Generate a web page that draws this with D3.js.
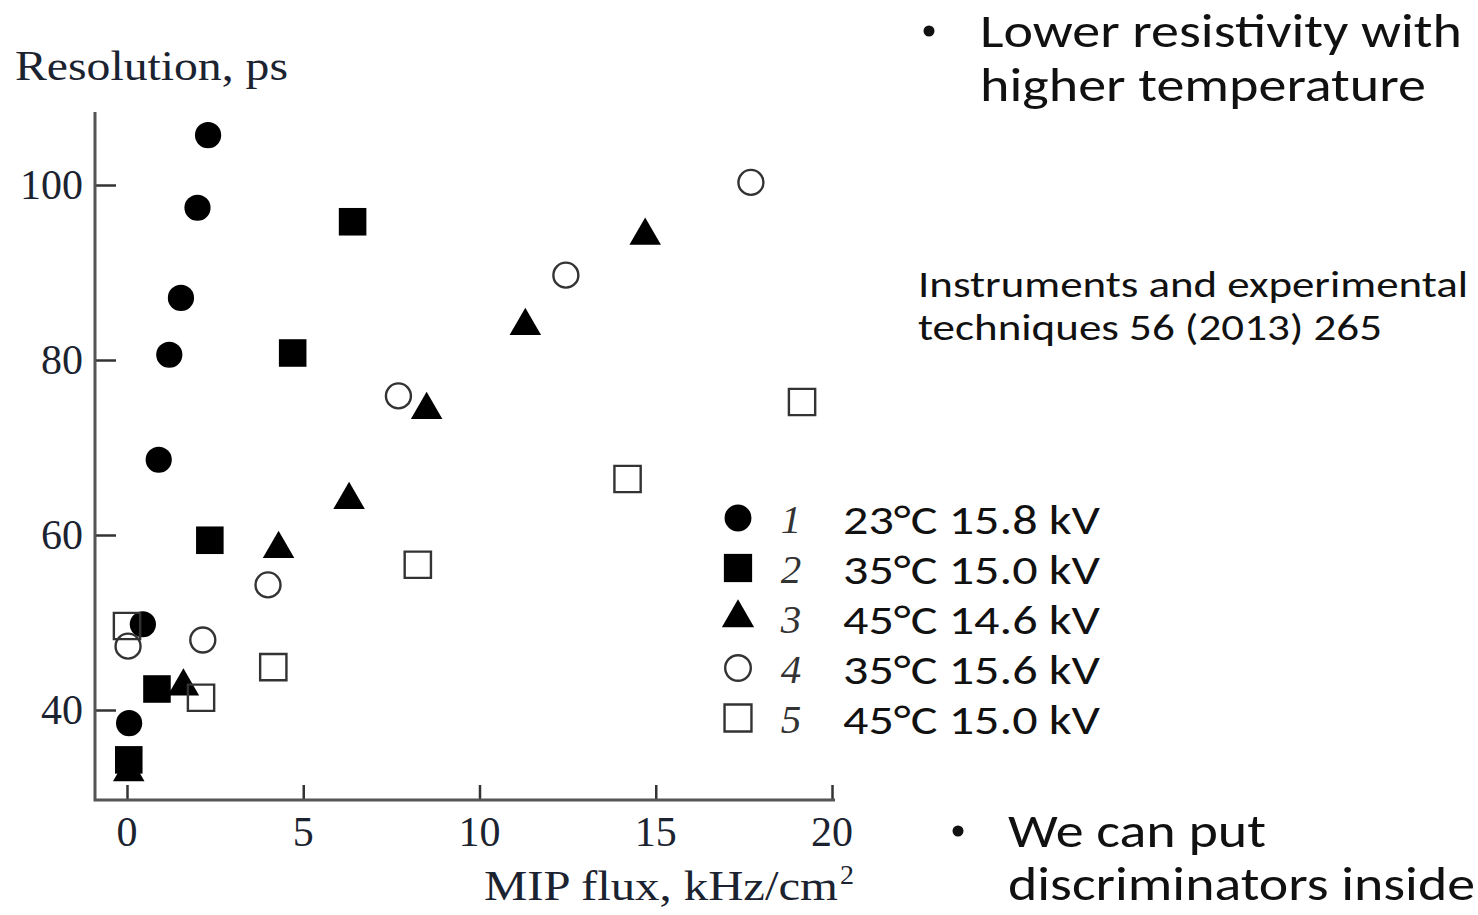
<!DOCTYPE html>
<html><head><meta charset="utf-8">
<script src="https://cdn.jsdelivr.net/npm/d3@7"></script>
<style>html,body{margin:0;padding:0;background:#fff;}</style>
</head><body>
<svg id="c" width="1478" height="915"></svg>
<script>
const xTicks = [0, 5, 10, 15, 20];
const yTicks = [40, 60, 80, 100];
const s1x = [0.06, 0.45, 0.9, 1.2, 1.53, 2.0, 2.3];
const s1y = [38.5, 49.8, 68.6, 80.6, 87.1, 97.4, 105.7];
const s2x = [0.05, 0.85, 2.35, 4.7, 6.4];
const s2y = [34.3, 42.4, 59.4, 80.8, 95.8];
const s3x = [0.05, 1.6, 4.3, 6.3, 8.5, 11.3, 14.7];
const s3y = [32.9, 42.7, 58.4, 64.0, 74.3, 83.9, 94.2];
const s4x = [0.03, 2.15, 4.0, 7.7, 12.45, 17.7];
const s4y = [47.3, 48.0, 54.3, 75.9, 89.7, 100.3];
const s5x = [0.0, 2.1, 4.15, 8.25, 14.2, 19.15];
const s5y = [49.6, 41.4, 44.9, 56.6, 66.4, 75.2];
const legendNums = ["1", "2", "3", "4", "5"];
const legendLabels = ["23\u00B0C 15.8 kV", "35\u00B0C 15.0 kV", "45\u00B0C 14.6 kV", "35\u00B0C 15.6 kV", "45\u00B0C 15.0 kV"];

const series = [
  {xs: s1x, ys: s1y, sym: d3.symbolCircle, size: 540, fill: "#000"},
  {xs: s2x, ys: s2y, sym: d3.symbolSquare, size: 760, fill: "#000"},
  {xs: s3x, ys: s3y, sym: d3.symbolTriangle, size: 430, fill: "#000"},
  {xs: s4x, ys: s4y, sym: d3.symbolCircle, size: 490, fill: "none"},
  {xs: s5x, ys: s5y, sym: d3.symbolSquare, size: 690, fill: "none"}
];

const svg = d3.select("#c");
const x = d3.scaleLinear().domain([0, 20]).range([127, 832]);
const y = d3.scaleLinear().domain([40, 100]).range([710, 185]);
const axLeft = 95, axBottom = 800, axTop = 112, axRight = 835;

const serif = "'Liberation Serif','Times New Roman',serif";
const sans = "Carlito,'Open Sans','Noto Sans',sans-serif";

// axes
const yAxis = d3.axisRight(y).tickValues(yTicks).tickSize(21).tickFormat("");
const gy = svg.append("g").attr("transform", `translate(${axLeft},0)`).call(yAxis);
gy.select(".domain").remove();
gy.selectAll(".tick line").attr("stroke", "#333").attr("stroke-width", 2.5);
const xAxis = d3.axisTop(x).tickValues(xTicks).tickSize(15).tickFormat("");
const gx = svg.append("g").attr("transform", `translate(0,${axBottom})`).call(xAxis);
gx.select(".domain").remove();
gx.selectAll(".tick line").attr("stroke", "#333").attr("stroke-width", 2.5);

svg.append("path").attr("d", `M${axLeft},${axTop}V${axBottom}H${axRight}`)
  .attr("fill", "none").attr("stroke", "#555").attr("stroke-width", 3);

// tick labels
svg.append("g").selectAll("text").data(yTicks).join("text")
  .attr("x", 83).attr("y", d => y(d) + 14).attr("text-anchor", "end")
  .attr("font-family", serif).attr("font-size", 42).attr("fill", "#1c2330")
  .text(d => d);
svg.append("g").selectAll("text").data(xTicks).join("text")
  .attr("x", d => x(d)).attr("y", 846).attr("text-anchor", "middle")
  .attr("font-family", serif).attr("font-size", 42).attr("fill", "#1c2330")
  .text(d => d);

// axis titles
svg.append("text").attr("x", 15).attr("y", 80).attr("font-family", serif)
  .attr("font-size", 42).attr("fill", "#1c2330")
  .attr("textLength", 273).attr("lengthAdjust", "spacingAndGlyphs").text("Resolution, ps");
svg.append("text").attr("x", 484).attr("y", 900)
  .attr("font-family", serif).attr("font-size", 42).attr("fill", "#1c2330")
  .attr("textLength", 354).attr("lengthAdjust", "spacingAndGlyphs").text("MIP flux, kHz/cm");
svg.append("text").attr("x", 840).attr("y", 884)
  .attr("font-family", serif).attr("font-size", 28).attr("fill", "#1c2330").text("2");

// points
series.forEach(s => {
  const pts = s.xs.map((v, i) => [v, s.ys[i]]);
  svg.append("g").selectAll("path").data(pts).join("path")
    .attr("transform", d => `translate(${x(d[0])},${y(d[1])})`)
    .attr("d", d3.symbol().type(s.sym).size(s.size))
    .attr("fill", s.fill === "none" ? "#fff" : s.fill)
    .attr("fill-opacity", s.fill === "none" ? 0 : 1)
    .attr("stroke", s.fill === "none" ? "#333" : "none")
    .attr("stroke-width", 2.4);
});

// legend
const lg = svg.append("g");
series.forEach((s, i) => {
  const cy = 518 + i * 50;
  lg.append("path").attr("transform", `translate(738,${cy})`)
    .attr("d", d3.symbol().type(s.sym).size(s.size * 1.05))
    .attr("fill", s.fill === "none" ? "none" : s.fill)
    .attr("stroke", s.fill === "none" ? "#333" : "none").attr("stroke-width", 2.4);
  lg.append("text").attr("x", 791).attr("y", cy + 15).attr("text-anchor", "middle")
    .attr("font-family", serif).attr("font-style", "italic").attr("font-size", 41)
    .attr("fill", "#333").text(legendNums[i]);
  lg.append("text").attr("x", 843).attr("y", cy + 16)
    .attr("font-family", sans).attr("font-size", 40).attr("fill", "#111")
    .attr("textLength", 257).attr("lengthAdjust", "spacingAndGlyphs")
    .text(legendLabels[i]);
});

// side notes
function note(txt, xx, yy, size, w) {
  svg.append("text").attr("x", xx).attr("y", yy).attr("font-family", sans)
    .attr("font-size", size).attr("fill", "#111")
    .attr("textLength", w).attr("lengthAdjust", "spacingAndGlyphs").text(txt);
}
svg.append("circle").attr("cx", 929).attr("cy", 31).attr("r", 5.5).attr("fill", "#111");
note("Lower resistivity with", 980, 47, 47, 482);
note("higher temperature", 980, 101, 47, 446);
note("Instruments and experimental", 918, 297, 37, 550);
note("techniques 56 (2013) 265", 918, 340, 37, 464);
svg.append("circle").attr("cx", 958).attr("cy", 831).attr("r", 5.5).attr("fill", "#111");
note("We can put", 1008, 847, 47, 258);
note("discriminators inside", 1008, 900, 47, 467);
</script>
</body></html>
